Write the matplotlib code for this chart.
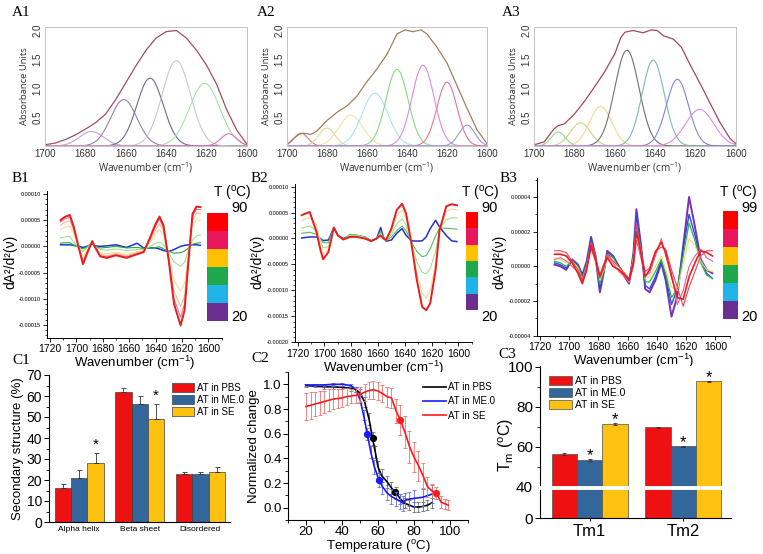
import numpy as np
import matplotlib
matplotlib.use("Agg")
import matplotlib.pyplot as plt
from matplotlib.colors import ListedColormap
from matplotlib.lines import Line2D
from matplotlib.ticker import MultipleLocator, FormatStrFormatter

plt.rcParams['font.family'] = ['Liberation Sans', 'DejaVu Sans']
plt.rcParams['mathtext.default'] = 'regular'

W, H = 763, 554

# ---------------- A: band fitting (gaussian components + envelope) ----------------
a1_centers = [1677, 1661, 1648, 1635, 1621, 1609]
a1_heights = [0.25, 0.80, 1.17, 1.47, 1.08, 0.21]
a1_widths = [6.0, 6.5, 6.5, 7.0, 7.5, 4.0]
a1_env_wn = [1700, 1695, 1690, 1685, 1680, 1675, 1670, 1665, 1660, 1655, 1650,
             1645, 1640, 1635, 1630, 1625, 1620, 1615, 1610, 1605, 1600]
a1_env = [0.02, 0.05, 0.11, 0.19, 0.29, 0.40, 0.55, 0.80, 1.09, 1.38, 1.65,
          1.86, 1.97, 1.99, 1.86, 1.65, 1.39, 1.06, 0.62, 0.27, 0.03]

a2_centers = [1693, 1680, 1668, 1656, 1645, 1632, 1620, 1610]
a2_heights = [0.22, 0.31, 0.53, 0.91, 1.32, 1.39, 1.10, 0.36]
a2_widths = [3.5, 4.0, 6.0, 6.5, 5.5, 5.5, 5.0, 4.0]
a2_env_wn = [1700, 1697, 1694, 1692, 1690, 1688, 1685, 1680, 1675, 1670, 1665, 1660,
             1655, 1650, 1645, 1641, 1637, 1633, 1630, 1625, 1620, 1615, 1610, 1605, 1600]
a2_env = [0.02, 0.12, 0.20, 0.22, 0.21, 0.20, 0.26, 0.44, 0.58, 0.69, 0.86, 1.11,
          1.33, 1.58, 1.93, 2.00, 1.97, 2.00, 1.93, 1.70, 1.43, 1.04, 0.65, 0.28, 0.04]

a3_centers = [1688, 1677, 1667, 1654, 1641, 1629, 1618]
a3_heights = [0.24, 0.40, 0.68, 1.65, 1.48, 1.15, 0.63]
a3_widths = [3.5, 5.0, 5.5, 6.0, 5.5, 5.5, 7.0]
a3_env_wn = [1700, 1695, 1690, 1688, 1685, 1680, 1675, 1670, 1665, 1660, 1657, 1655, 1651,
             1646, 1642, 1639, 1636, 1631, 1627, 1623, 1618, 1613, 1608, 1603, 1600]
a3_env = [0.02, 0.07, 0.30, 0.35, 0.38, 0.55, 0.77, 1.02, 1.28, 1.59, 1.87, 1.96, 1.99,
          1.95, 2.00, 1.99, 1.90, 1.84, 1.70, 1.42, 1.09, 0.75, 0.41, 0.13, 0.04]

# ---------------- B: second derivative spectra (units of 1e-5) ----------------
b1_wn = [1712, 1709, 1705, 1702, 1698, 1695, 1692, 1688, 1686, 1682, 1677, 1670, 1662, 1654,
         1649, 1644, 1640, 1637, 1634, 1630, 1626, 1621, 1618, 1615, 1612, 1609, 1606]
b1_t20 = [0.3, 0.3, 0.3, 0.2, 0.0, -0.2, 0.0, 0.5, 0.1, 0.0, 0.1, 0.3, -0.2, 0.6,
          -0.3, -0.3, -0.3, -0.5, -0.8, -1.0, -0.6, 0.0, 0.2, 0.3, 0.3, 0.3, 0.2]
b1_t50 = [0.6, 0.7, 0.7, 0.2, -0.2, -0.5, -0.1, 0.6, 0.0, -0.3, -0.2, 0.0, -0.3, -0.2,
          -0.4, -0.3, -0.2, -0.1, -0.5, -0.9, -1.3, -1.2, -0.9, -0.3, 0.4, 0.6, 0.7]
b1_t60 = [1.6, 1.8, 1.9, 0.8, -0.3, -1.0, -0.3, 0.8, -0.1, -0.6, -0.7, -0.5, -0.8, -0.6,
          -0.6, 0.0, 0.6, 0.8, 0.3, -1.2, -3.0, -3.8, -3.0, -0.8, 1.2, 2.0, 2.2]
b1_t70 = [3.2, 3.6, 3.9, 2.3, -0.2, -2.0, -0.8, 0.9, -0.1, -1.2, -1.4, -1.1, -1.5, -1.0,
          -0.8, 0.8, 2.4, 3.2, 2.2, -1.8, -6.5, -8.5, -7.0, -1.5, 4.0, 5.0, 5.0]
b1_t75 = [4.0, 4.6, 4.9, 3.0, -0.3, -2.6, -1.0, 1.0, -0.1, -1.5, -1.8, -1.4, -1.8, -1.2,
          -0.9, 1.2, 3.2, 4.3, 3.0, -2.2, -8.5, -11.5, -9.5, -2.0, 5.0, 6.4, 6.3]
b1_t85 = [4.7, 5.2, 5.6, 3.4, -0.5, -3.0, -1.2, 1.0, -0.1, -1.8, -2.0, -1.6, -2.0, -1.4,
          -1.0, 1.5, 3.9, 5.2, 3.6, -2.5, -10.0, -13.5, -11.0, -2.4, 5.8, 7.1, 7.0]
b1_t90 = [5.0, 5.6, 6.0, 3.7, -0.5, -3.4, -1.4, 1.0, -0.1, -1.9, -2.2, -1.7, -2.2, -1.5,
          -1.1, 1.8, 4.3, 5.7, 4.0, -2.7, -11.0, -15.1, -12.2, -2.7, 6.2, 7.6, 7.5]

b2_wn = [1717, 1711, 1706, 1703, 1701, 1697, 1693, 1690, 1686, 1681, 1676, 1670, 1665, 1661, 1658, 1656,
         1654, 1650, 1646, 1642, 1639, 1635, 1631, 1627, 1624, 1621, 1617, 1614, 1609, 1605, 1601]
b2_t20 = [0.1, 0.3, 0.3, 0.0, -0.4, -0.3, 2.1, 0.6, 0.0, 0.5, 0.5, 0.3, -0.45, 0.0, 2.1, 0.3,
          -0.5, -0.3, 1.0, 1.9, 0.6, -0.45, -0.5, -0.45, 0.3, 1.9, 3.5, 2.2, 0.6, -0.45, -0.6]
b2_t50 = [1.0, 1.2, 0.8, 0.0, -0.8, -0.8, 2.1, 0.6, -0.1, 0.8, 0.7, 0.3, -0.5, 0.0, 1.3, 0.2,
          -0.4, 0.3, 1.5, 2.4, 1.5, -0.7, -2.5, -3.5, -3.3, -2.0, 0.5, 2.0, 2.0, 1.9, 1.8]
b2_t65 = [2.0, 2.4, 1.6, -0.4, -1.8, -1.6, 2.1, 0.6, -0.2, 0.6, 0.6, 0.2, -0.5, 0.0, 1.0, 0.1,
          -0.4, 0.8, 2.8, 3.8, 2.6, -0.8, -4.5, -6.5, -6.8, -5.8, -2.5, 1.8, 3.6, 4.0, 4.0]
b2_t80 = [3.5, 4.0, 2.8, -1.0, -3.0, -2.1, 2.1, 0.6, -0.2, 0.4, 0.4, 0.1, -0.5, 0.0, 0.8, 0.0,
          -0.3, 1.4, 4.3, 5.5, 3.8, -0.9, -6.5, -10.5, -11.5, -10.0, -4.8, 1.7, 5.2, 5.7, 5.5]
b2_t90 = [4.5, 5.1, 1.3, -2.2, -4.0, -2.6, 2.1, 0.6, -0.2, 0.3, 0.3, 0.0, -0.5, 0.0, 0.6, 0.0,
          -0.3, 1.9, 5.5, 6.7, 4.8, -1.0, -8.0, -13.2, -13.8, -12.5, -6.1, 1.6, 6.2, 6.6, 6.4]

b3_wn = [1710, 1706, 1702, 1698, 1694, 1691, 1688, 1685, 1682, 1679, 1676, 1674, 1670, 1666, 1662, 1659,
         1656, 1654, 1651, 1648, 1645, 1641, 1637, 1634, 1630, 1626, 1622, 1618, 1614, 1610, 1606, 1602]
b3_t20 = [0.1, 0.0, -0.2, 0.4, 0.1, -0.5, 0.3, 1.7, 0.6, -1.5, -0.2, 0.9, 0.6, 0.0, -0.6, -1.0,
          0.8, 3.3, 1.3, -1.3, -1.5, -0.8, 0.2, -0.8, -2.9, -1.7, 1.2, 4.0, 2.3, 0.4, -0.2, -0.4]
b3_t40 = [0.2, 0.1, -0.1, 0.3, 0.1, -0.6, 0.2, 1.6, 0.6, -1.3, -0.2, 0.8, 0.6, 0.0, -0.5, -0.9,
          0.7, 3.0, 1.2, -1.1, -1.3, -0.6, 0.3, -0.6, -2.2, -1.3, 1.0, 3.0, 1.8, 0.4, -0.4, -0.7]
b3_t55 = [0.3, 0.2, 0.0, 0.3, 0.0, -0.7, 0.1, 1.3, 0.5, -1.0, -0.2, 0.7, 0.5, -0.1, -0.5, -0.9,
          0.6, 2.4, 1.0, -0.9, -0.9, -0.3, 0.4, -0.4, -1.8, -1.3, 0.6, 2.5, 1.5, 0.2, -0.5, -0.7]
b3_t70 = [0.5, 0.4, 0.2, 0.3, -0.1, -0.8, 0.0, 1.2, 0.5, -0.8, -0.1, 0.6, 0.4, -0.1, -0.5, -0.9,
          0.5, 2.1, 0.9, -0.7, -0.6, 0.0, 0.6, -0.2, -1.2, -1.4, 0.2, 1.6, 1.2, 0.3, -0.2, -0.3]
b3_t90 = [0.4, 0.5, 0.3, 0.0, -0.3, -0.9, 0.0, 1.0, 0.3, -0.7, 0.0, 0.6, 0.2, -0.3, -0.6, -0.9,
          0.0, 1.5, 0.5, -0.5, -0.4, 0.6, 1.6, 0.6, -0.4, -2.2, -1.4, 0.0, 0.6, 1.0, 0.5, 0.3]
b3_t95 = [0.9, 0.9, 0.8, 0.3, -0.2, -0.8, -0.1, 1.4, 0.6, -0.5, 0.2, 0.7, 0.3, 0.0, -0.4, -0.7,
          0.4, 2.4, 0.9, -0.3, -0.1, 0.9, 1.1, 1.0, -0.2, -1.2, -2.3, -1.2, -0.3, 0.6, 0.9, 0.9]
b3_t99 = [0.7, 0.7, 0.6, 0.2, -0.4, -1.0, -0.2, 1.2, 0.4, -0.6, 0.1, 0.5, 0.0, -0.2, -0.5, -0.8,
          0.2, 2.0, 0.8, -0.6, -0.2, 0.8, 1.4, 0.8, -0.6, -1.8, -1.9, -0.6, 0.2, 0.9, 0.8, 0.6]

cb_colors = ['#ff0000', '#e8175d', '#ffc000', '#1fa84b', '#1fb3e8', '#6b2d90']

# ---------------- C1: secondary structure ----------------
structures = ['Alpha helix', 'Beta sheet', 'Disordered']
samples = ['AT in PBS', 'AT in ME.0', 'AT in SE']
ss_pbs = [16, 62, 23]
ss_me = [21, 56, 23]
ss_se = [28, 49, 24]
ss_pbs_err = [2, 2, 1]
ss_me_err = [4, 4, 1]
ss_se_err = [5, 7, 2]

# ---------------- C2: melting curves ----------------
pbs_t = [20, 25, 30, 35, 40, 45, 47.5, 50, 52.5, 55, 57, 58.5, 60, 62, 65, 67.5, 70,
         72.5, 75, 77.5, 80, 82.5, 85, 87.5, 90]
pbs_v = [0.99, 0.985, 0.98, 0.98, 0.975, 0.97, 0.96, 0.93, 0.86, 0.72, 0.56, 0.45, 0.33, 0.26,
         0.21, 0.16, 0.12, 0.07, 0.035, 0.02, 0.005, 0.005, 0.01, 0.02, 0.04]
pbs_err = [0.01, 0.01, 0.015, 0.015, 0.015, 0.02, 0.02, 0.03, 0.04, 0.05, 0.05, 0.05, 0.05, 0.05,
           0.05, 0.05, 0.05, 0.04, 0.04, 0.04, 0.04, 0.04, 0.04, 0.04, 0.04]
me_t = [20, 25, 30, 35, 40, 45, 47.5, 50, 52, 54, 56, 58, 60.5, 62.5, 65, 67.5, 70, 72.5,
        74, 75, 77.5, 80, 85, 90]
me_v = [0.995, 0.995, 0.995, 1.0, 1.0, 0.99, 0.96, 0.88, 0.75, 0.6, 0.45, 0.33, 0.225, 0.17,
        0.12, 0.09, 0.07, 0.05, 0.035, 0.06, 0.07, 0.075, 0.085, 0.11]
me_err = [0.01, 0.01, 0.01, 0.01, 0.01, 0.015, 0.02, 0.03, 0.04, 0.05, 0.05, 0.06, 0.06, 0.06,
          0.06, 0.06, 0.06, 0.06, 0.06, 0.06, 0.06, 0.07, 0.07, 0.07]
se_t = [20, 22.5, 25, 27.5, 30, 32.5, 35, 37.5, 40, 42.5, 45, 47.5, 50, 52.5, 55, 57.5, 60,
        62.5, 65, 67.5, 70, 72.5, 75, 77.5, 80, 82.5, 85, 87.5, 90, 92.5, 95, 97.5, 99]
se_v = [0.82, 0.83, 0.84, 0.85, 0.86, 0.87, 0.88, 0.885, 0.89, 0.90, 0.905, 0.91, 0.92, 0.935,
        0.95, 0.955, 0.946, 0.925, 0.90, 0.89, 0.785, 0.71, 0.61, 0.495, 0.41, 0.34, 0.26,
        0.17, 0.135, 0.12, 0.045, 0.03, 0.02]
se_err = [0.11, 0.11, 0.10, 0.10, 0.09, 0.09, 0.08, 0.08, 0.07, 0.07, 0.06, 0.06, 0.06, 0.07,
          0.07, 0.07, 0.07, 0.07, 0.08, 0.08, 0.10, 0.12, 0.13, 0.13, 0.12, 0.12, 0.10, 0.08,
          0.06, 0.05, 0.05, 0.04, 0.04]
pbs_mark_t, pbs_mark_v = [57, 69.5], [0.565, 0.126]
me_mark_t, me_mark_v = [54, 60.7], [0.60, 0.225]
se_mark_t, se_mark_v = [72.5, 92.5], [0.71, 0.12]

# ---------------- C3: Tm ----------------
tm_names = ['Tm1', 'Tm2']
tm_pbs = [56.5, 69.8]
tm_me = [53.5, 60.3]
tm_se = [71.5, 92.8]
tm_pbs_err = [0.4, 0.4]
tm_me_err = [0.3, 0.3]
tm_se_err = [0.3, 0.3]

RED, BLUE, YEL = '#ee1111', '#33669a', '#ffc211'


def fx(px):
    return px / W


def fy(py):
    return 1 - py / H


def box(x0, y0, x1, y1):
    return [fx(x0), fy(y1), (x1 - x0) / W, (y1 - y0) / H]


fig = plt.figure(figsize=(W / 100, H / 100), dpi=100)

# ---------- A panels ----------
wn = np.linspace(1700, 1600, 401)
a_specs = [
    (box(45, 27, 247, 146), a1_centers, a1_heights, a1_widths,
     ['#c9a0cc', '#a07ea8', '#6e6a92', '#c8c8d2', '#a6e2a6', '#e070c8'], a1_env_wn, a1_env, '#a2505a'),
    (box(287, 27, 487, 146), a2_centers, a2_heights, a2_widths,
     ['#c08488', '#e6d690', '#f2e4a0', '#a8e6f0', '#88d888', '#e088e0', '#e07894', '#9898e4'],
     a2_env_wn, a2_env, '#a08060'),
    (box(534, 27, 736, 146), a3_centers, a3_heights, a3_widths,
     ['#98d498', '#c6d888', '#f2d890', '#707070', '#7cbab4', '#8484d4', '#e488e4'],
     a3_env_wn, a3_env, '#a44a5a'),
]
for pos, cen, hei, wid, cols, ewn, env, ecol in a_specs:
    ax = fig.add_axes(pos)
    for c, h, w, col in zip(cen, hei, wid, cols):
        ax.plot(wn, h * np.exp(-0.5 * ((wn - c) / w) ** 2), color=col, lw=0.8)
    ax.plot([1700, 1600], [0.005, 0.005], color='#e040d0', lw=0.8)
    ax.plot(ewn, env, color=ecol, lw=0.9)
    ax.set_xlim(1700, 1600)
    ax.set_ylim(0, 2.05)
    ax.set_xticks([1700, 1680, 1660, 1640, 1620, 1600])
    ax.set_yticks([0.5, 1.0, 1.5, 2.0])
    for s in ax.spines.values():
        s.set_color('#c4c4c4')
        s.set_linewidth(0.7)
    ax.tick_params(length=0, pad=2, labelsize=7, colors='#333333')
    for lab in ax.get_yticklabels():
        lab.set_rotation(90)
        lab.set_va('center')
    ax.set_ylabel('Absorbance Units', fontsize=6.8, color='#333333', labelpad=2,
                  family=['Open Sans', 'DejaVu Sans'])
    ax.set_xlabel('Wavenumber (cm$^{-1}$)', fontsize=7.2, color='#333333', labelpad=1,
                  family=['Open Sans', 'DejaVu Sans'])

# ---------- B panels ----------
b_specs = [
    (box(47.4, 191.4, 221.5, 338), b1_wn,
     [(b1_t20, '#2233cc', 1.1), (b1_t50, '#22aa44', 0.8), (b1_t60, '#a0e090', 0.8),
      (b1_t70, '#f6dc9c', 0.8), (b1_t75, '#f8b890', 0.8), (b1_t85, '#f07088', 0.8),
      (b1_t90, '#e61e1e', 1.4)],
     (-0.000175, 0.000105), [-0.00015, -0.0001, -0.00005, 0, 0.00005, 0.0001], 0.00005 / 5,
     box(207, 213, 228, 321), '90', 213, 10, 20),
    (box(295, 184, 471.7, 342.3), b2_wn,
     [(b2_t20, '#2233cc', 1.1), (b2_t50, '#55c060', 0.8), (b2_t65, '#a0e090', 0.8),
      (b2_t80, '#f6d49c', 0.8), (b2_t90, '#e61e1e', 1.4)],
     (-0.0002, 0.000105), [-0.0002, -0.00015, -0.0001, -0.00005, 0, 0.00005, 0.0001], 0.00005 / 5,
     box(466, 212, 478, 310), '90', 461, 257, 20),
    (box(537, 178.3, 730, 335.7), b3_wn,
     [(b3_t20, '#7a30b8', 1.4), (b3_t40, '#2a4fd0', 1.0), (b3_t55, '#30b050', 0.9),
      (b3_t70, '#e8e070', 0.8), (b3_t90, '#f06090', 0.8), (b3_t95, '#f04060', 0.8),
      (b3_t99, '#e61e1e', 1.2)],
     (-0.00004, 0.0000508), [-0.00004, -0.00002, 0, 0.00002, 0.00004], 0.00001,
     box(723, 211, 738, 319), '99', 719, 499, 20),
]
for pos, bwn, curves, ylim, yt, ymin, cbpos, top_t, tx, ylx, low_t in b_specs:
    ax = fig.add_axes(pos)
    for vals, col, lw in curves:
        ax.plot(bwn, np.array(vals) * 1e-5, color=col, lw=lw)
    ax.set_xlim(1722, 1590)
    ax.set_ylim(*ylim)
    ax.set_xticks([1720, 1700, 1680, 1660, 1640, 1620, 1600])
    ax.xaxis.set_minor_locator(MultipleLocator(10))
    ax.set_yticks(yt)
    ax.yaxis.set_minor_locator(MultipleLocator(ymin))
    ax.yaxis.set_major_formatter(FormatStrFormatter('%.5f'))
    for side in ['top', 'right']:
        ax.spines[side].set_visible(False)
    for side in ['left', 'bottom']:
        ax.spines[side].set_linewidth(0.7)
    ax.tick_params(axis='y', which='major', direction='out', length=3, width=0.6,
                   labelsize=4, pad=1.5)
    ax.tick_params(axis='x', which='major', direction='out', length=3, width=0.6,
                   labelsize=7.5, pad=1.5)
    ax.tick_params(which='minor', direction='out', length=1.6, width=0.5)
    ax.set_xlabel('Wavenumber (cm$^{-1}$)', fontsize=9.5, labelpad=0)
    fig.text(fx(ylx), fy(262), 'dA²/d²(ν)', rotation=90, fontsize=10,
             ha='center', va='center')
    cax = fig.add_axes(cbpos)
    cax.imshow(np.arange(6).reshape(6, 1), cmap=ListedColormap(cb_colors),
               aspect='auto', interpolation='nearest')
    cax.axis('off')
    x1 = cbpos[0] + cbpos[2]
    fig.text(fx(tx), fy(193), 'T ($^{o}$C)', fontsize=10, ha='left', va='center')
    fig.text(x1 + fx(3), fy(208), top_t, fontsize=10.5, ha='left', va='center')
    fig.text(x1 + fx(3), fy(317), str(low_t), fontsize=10.5, ha='left', va='center')

# ---------- C1 ----------
ax = fig.add_axes(box(49, 375, 230, 522))
xs = np.arange(len(structures))
bw = 0.27
zeros = [0, 0, 0]
for k, (vals, errs, col) in enumerate([(ss_pbs, ss_pbs_err, RED), (ss_me, ss_me_err, BLUE),
                                        (ss_se, ss_se_err, YEL)]):
    ax.bar(xs + (k - 1) * bw, vals, bw, color=col, edgecolor='#404040', lw=0.5,
           yerr=[zeros, errs], error_kw=dict(ecolor='#303030', elinewidth=0.6, capsize=1.8,
                                             capthick=0.6), label=samples[k])
for i in [0, 1]:
    ax.annotate('*', (xs[i] + bw, ss_se[i] + ss_se_err[i]), xytext=(0, 1),
                textcoords='offset points', ha='center', va='bottom', fontsize=11)
ax.set_xlim(-0.5, 2.49)
ax.set_ylim(0, 70)
ax.set_xticks(xs)
ax.set_xticklabels(structures)
ax.set_yticks(range(0, 71, 10))
ax.yaxis.set_minor_locator(MultipleLocator(5))
for side in ['top', 'right']:
    ax.spines[side].set_visible(False)
ax.tick_params(axis='x', length=0, labelsize=6, pad=3)
ax.tick_params(axis='y', direction='out', length=3.5, width=0.7, labelsize=10, pad=1.5)
ax.tick_params(axis='y', which='minor', direction='out', length=2, width=0.6)
ax.set_ylabel('Secondary structure (%)', fontsize=9.5, labelpad=2)
ax.legend(loc='upper left', bbox_to_anchor=(fx(172), fy(383)), bbox_transform=fig.transFigure,
          frameon=False, fontsize=7, handlelength=2.3, handleheight=1.0, labelspacing=0.2,
          borderpad=0, borderaxespad=0, handletextpad=0.3)

# ---------- C2 ----------
ax = fig.add_axes(box(288, 372, 468, 520))
for t, v, e, col, ecol, mt, mv in [
        (pbs_t, pbs_v, pbs_err, 'black', '#707070', pbs_mark_t, pbs_mark_v),
        (me_t, me_v, me_err, '#1a1aff', '#6070ee', me_mark_t, me_mark_v),
        (se_t, se_v, se_err, '#ff1a1a', '#f07070', se_mark_t, se_mark_v)]:
    ax.errorbar(t, v, yerr=e, fmt='none', ecolor=ecol, elinewidth=0.6, capsize=1.5,
                capthick=0.6)
    ax.plot(t, v, color=col, lw=1.2)
    ax.plot(mt, mv, 'o', color=col, ms=4.2)
ax.set_xlim(10, 110)
ax.set_ylim(-0.1, 1.1)
ax.set_xticks([20, 40, 60, 80, 100])
ax.set_yticks([0.0, 0.2, 0.4, 0.6, 0.8, 1.0])
ax.xaxis.set_minor_locator(MultipleLocator(10))
ax.yaxis.set_minor_locator(MultipleLocator(0.1))
ax.yaxis.set_major_formatter(FormatStrFormatter('%.1f'))
for side in ['top', 'right']:
    ax.spines[side].set_visible(False)
ax.tick_params(direction='out', length=3.5, width=0.7, labelsize=9.5, pad=1)
ax.tick_params(which='minor', direction='out', length=2, width=0.6)
ax.set_xlabel('Temperature ($^{o}$C)', fontsize=9.5, labelpad=0)
ax.set_ylabel('Normalized change', fontsize=9.5, labelpad=2)
handles = [Line2D([], [], color='black', lw=1.2), Line2D([], [], color='#1a1aff', lw=1.2),
           Line2D([], [], color='#ff1a1a', lw=1.2)]
ax.legend(handles, samples, loc='upper left', bbox_to_anchor=(fx(423), fy(382)),
          bbox_transform=fig.transFigure, frameon=False, fontsize=7, handlelength=2.4,
          labelspacing=0.45, borderpad=0, borderaxespad=0, handletextpad=0.2)

# ---------- C3 (broken axis) ----------
ax_lo = fig.add_axes(box(540, 487, 731, 518))
ax_hi = fig.add_axes(box(540, 366, 731, 487), sharex=ax_lo)
xs = np.arange(len(tm_names))
bw = 0.27
for axc in [ax_lo, ax_hi]:
    for k, (vals, errs, col) in enumerate([(tm_pbs, tm_pbs_err, RED), (tm_me, tm_me_err, BLUE),
                                            (tm_se, tm_se_err, YEL)]):
        axc.bar(xs + (k - 1) * bw, vals, bw, color=col, edgecolor='#505050', lw=0.5,
                yerr=errs, error_kw=dict(ecolor='#303030', elinewidth=0.6, capsize=1.5,
                                         capthick=0.6), label=samples[k])
    axc.spines['right'].set_visible(False)
    axc.spines['top'].set_visible(False)
    axc.tick_params(direction='out', length=3.5, width=0.7, labelsize=11, pad=1.5)
ax_hi.spines['bottom'].set_visible(False)
ax_hi.tick_params(axis='x', bottom=False, labelbottom=False)
ax_hi.set_ylim(40, 100.5)
ax_hi.set_yticks([40, 60, 80, 100])
ax_hi.yaxis.set_minor_locator(MultipleLocator(10))
ax_hi.tick_params(axis='y', which='minor', direction='out', length=2, width=0.6)
ax_lo.set_ylim(0, 40)
ax_lo.set_yticks([0])
ax_lo.set_xlim(-0.53, 1.51)
ax_lo.set_xticks(xs)
ax_lo.set_xticklabels(tm_names)
ax_lo.tick_params(axis='x', length=2.5, labelsize=12)
stars = [(0, tm_me, tm_me_err, 0), (0, tm_se, tm_se_err, 1), (1, tm_me, tm_me_err, 0),
         (1, tm_se, tm_se_err, 1)]
for i, vals, errs, k in stars:
    ax_hi.annotate('*', (xs[i] + k * bw, vals[i] + errs[i]), xytext=(0, -3),
                   textcoords='offset points', ha='center', va='bottom', fontsize=12)
fig.text(fx(506), fy(445), 'T$_m$ ($^{o}$C)', rotation=90, fontsize=11.5,
         ha='center', va='center')
ax_hi.legend(loc='upper left', bbox_to_anchor=(fx(549), fy(376)), bbox_transform=fig.transFigure,
             frameon=False, fontsize=7.5, handlelength=2.2, handleheight=1.0, labelspacing=0.15,
             borderpad=0, borderaxespad=0, handletextpad=0.3)
fig.add_artist(Line2D([fx(535), fx(731)], [fy(487.5), fy(487.5)], color='white', lw=2.8))

# ---------- panel labels ----------
serif = ['Liberation Serif', 'DejaVu Serif']
for lab, px, py in [('A1', 12, 13), ('A2', 257, 13), ('A3', 502, 13),
                    ('B1', 12, 178), ('B2', 251, 178), ('B3', 500, 178),
                    ('C1', 12, 361), ('C2', 251, 358), ('C3', 498, 355)]:
    fig.text(fx(px), fy(py), lab, family=serif, fontsize=11, ha='left', va='center')

fig.savefig('out.png', dpi=100)
